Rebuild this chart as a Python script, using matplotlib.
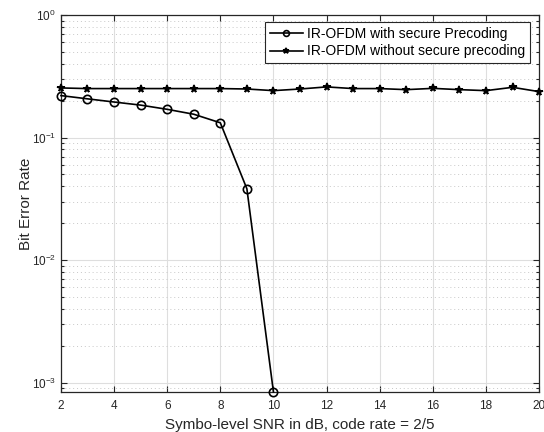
import matplotlib
matplotlib.use("Agg")
import matplotlib.pyplot as plt
import numpy as np
from matplotlib.ticker import LogLocator, NullFormatter, FixedLocator

plt.rcParams['font.family'] = ['Liberation Sans', 'DejaVu Sans']
plt.rcParams['mathtext.fontset'] = 'custom'
plt.rcParams['mathtext.rm'] = 'Liberation Sans'
plt.rcParams['mathtext.it'] = 'Liberation Sans'
plt.rcParams['axes.unicode_minus'] = False

snr_secure = [2, 3, 4, 5, 6, 7, 8, 9, 10]
ber_secure = [0.220, 0.207, 0.195, 0.184, 0.170, 0.155, 0.132, 0.0382, 0.00084]

snr_plain = list(range(2, 21))
ber_plain = [0.254, 0.251, 0.251, 0.251, 0.251, 0.251, 0.251, 0.249, 0.2415,
             0.249, 0.259, 0.251, 0.251, 0.246, 0.252, 0.246, 0.2415, 0.257, 0.237]

label_secure = "IR-OFDM with secure Precoding"
label_plain = "IR-OFDM without secure precoding"
xlabel = "Symbo-level SNR in dB, code rate = 2/5"
ylabel = "Bit Error Rate"
xticks = [2, 4, 6, 8, 10, 12, 14, 16, 18, 20]

fig = plt.figure(figsize=(5.44, 4.32), dpi=100)
ax = fig.add_axes([0.112, 0.0926, 0.879, 0.8727])

ax.semilogy(snr_secure, ber_secure, color='black', linewidth=1.2, marker='o',
            markersize=6, markerfacecolor='none', markeredgewidth=1.2,
            label=label_secure, clip_on=False, zorder=5)
ax.semilogy(snr_plain, ber_plain, color='black', linewidth=1.2, marker='*',
            markersize=5.5, markeredgewidth=1.2, label=label_plain,
            clip_on=False, zorder=5)

ax.set_xlim(2, 20)
ax.set_ylim(min(ber_secure), 1.0)
ax.xaxis.set_major_locator(FixedLocator(xticks))
ax.yaxis.set_major_locator(LogLocator(base=10, numticks=10))
ax.yaxis.set_minor_locator(LogLocator(base=10, subs=np.arange(2, 10), numticks=20))
ax.yaxis.set_minor_formatter(NullFormatter())

ax.grid(True, which='major', color='#dedede', linestyle='-', linewidth=0.8)
ax.grid(True, which='minor', axis='y', color='#c8c8c8', linestyle=(0, (1, 3)), linewidth=0.7)
ax.set_axisbelow(True)

ax.tick_params(which='both', direction='in', top=True, right=True, labelsize=8.5,
               colors='#262626', width=0.8)
ax.tick_params(which='major', length=4)
ax.tick_params(axis='x', which='major', pad=6)
ax.tick_params(which='minor', length=2.5)
for s in ax.spines.values():
    s.set_color('#262626')
    s.set_linewidth(0.9)

ax.set_xlabel(xlabel, fontsize=11, color='#262626', labelpad=4)
ax.set_ylabel(ylabel, fontsize=11, color='#262626', labelpad=-1)

leg = ax.legend(loc='upper right', fontsize=10, frameon=True, fancybox=False,
                edgecolor='#262626', framealpha=1, borderpad=0.35, labelspacing=0.25,
                handlelength=2.4, handletextpad=0.3, markerscale=0.7,
                borderaxespad=0, bbox_to_anchor=(0.981, 0.981))
leg.get_frame().set_linewidth(0.8)

fig.savefig("out.png", dpi=100)
